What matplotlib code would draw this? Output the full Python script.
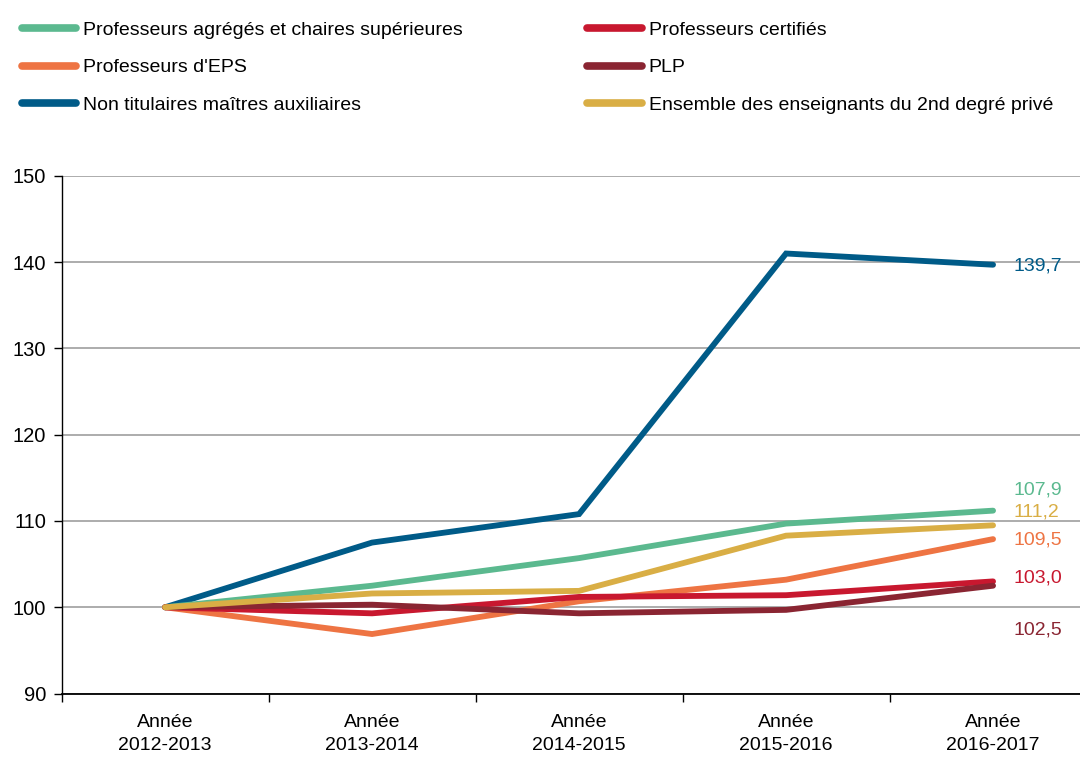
import matplotlib
matplotlib.use("Agg")
import matplotlib.pyplot as plt
from matplotlib.lines import Line2D
import numpy as np

plt.rcParams["font.family"] = ["Liberation Sans", "DejaVu Sans"]

years = ["Année\n2012-2013", "Année\n2013-2014", "Année\n2014-2015",
         "Année\n2015-2016", "Année\n2016-2017"]

agreges = [100.0, 102.5, 105.7, 109.7, 111.2]
certifies = [100.0, 99.3, 101.2, 101.4, 103.0]
eps = [100.0, 96.9, 100.7, 103.2, 107.9]
plp = [100.0, 100.3, 99.3, 99.7, 102.5]
non_titulaires = [100.0, 107.5, 110.8, 141.0, 139.7]
ensemble = [100.0, 101.6, 101.9, 108.3, 109.5]

names = ["Professeurs agrégés et chaires supérieures", "Professeurs certifiés",
         "Professeurs d'EPS", "PLP", "Non titulaires maîtres auxiliaires",
         "Ensemble des enseignants du 2nd degré privé"]
end_labels = ["107,9", "103,0", "109,5", "102,5", "139,7", "111,2"]
label_y = [113.6, 103.4, 107.8, 97.4, 139.6, 111.0]

colors = ["#5BB98F", "#C8182F", "#EE7443", "#8A2532", "#005B88", "#D9AE45"]
series = [agreges, certifies, eps, plp, non_titulaires, ensemble]
order = [4, 0, 2, 1, 3, 5]  # draw order

fig = plt.figure(figsize=(10.8, 7.58), dpi=100)
ax = fig.add_axes([0.057, 0.085, 0.943, 0.683])
x = np.arange(len(years))

for i in order:
    ax.plot(x, series[i], color=colors[i], lw=4.2, solid_capstyle="round",
            solid_joinstyle="miter", zorder=3)

for i in range(len(series)):
    ax.text(x[-1] + 0.1, label_y[i], end_labels[i], color=colors[i],
            fontsize=14, ha="left", va="center")

ax.set_xlim(-0.5, 4.42)
ax.set_ylim(90, 150)
ax.set_yticks([90, 100, 110, 120, 130, 140, 150])
ax.set_xticks(x)
ax.set_xticklabels(years, fontsize=14, linespacing=1.45)
ax.set_xticks(np.arange(-0.5, 4.5, 1.0), minor=True)
ax.tick_params(axis="x", which="major", length=0, pad=15)
ax.tick_params(axis="x", which="minor", length=6, width=1, direction="out")
ax.tick_params(axis="y", length=6, width=1, direction="out", labelsize=14.5, pad=5)
ax.yaxis.grid(True, color="#A6A6A6", lw=1.3)
ax.set_axisbelow(True)
for s in ["top", "right"]:
    ax.spines[s].set_visible(False)
ax.spines["left"].set_linewidth(1)
ax.spines["bottom"].set_linewidth(1.3)

leg_order = [0, 2, 4, 1, 3, 5]
handles = [Line2D([0], [0], color=colors[i], lw=5.5, solid_capstyle="round") for i in leg_order]
fig.legend(handles, [names[i] for i in leg_order], loc="upper left",
           bbox_to_anchor=(0.004, 0.995), ncol=2, frameon=False, fontsize=14,
           handlelength=2.8, handletextpad=0.35, columnspacing=6.4, labelspacing=1.02)

fig.savefig("out.png", dpi=100)
